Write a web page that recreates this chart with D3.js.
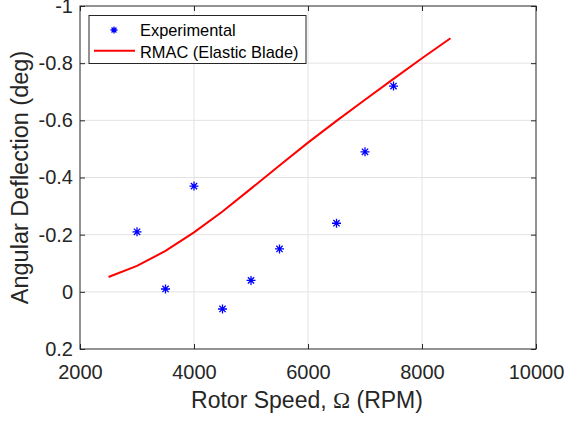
<!DOCTYPE html>
<html>
<head>
<meta charset="utf-8">
<script src="https://cdn.jsdelivr.net/npm/d3@7"></script>
<style>
	body { margin: 0; background: #fff; }
	svg { font-family: "Liberation Sans", Arial, sans-serif; }
</style>
</head>
<body>
<div id="chart"></div>
<script>
// experimental points
const expSpeed = [3000, 3500, 4000, 4500, 5000, 5500, 6500, 7000, 7500];
const expDefl = [-0.21, -0.01, -0.37, 0.06, -0.04, -0.15, -0.24, -0.49, -0.72];

// RMAC (Elastic Blade) curve
const rmacSpeed = [2500, 3000, 3500, 4000, 4500, 5000, 5500, 6000, 6500, 7000, 7500, 8000, 8500];
const rmacDefl = [-0.052, -0.091, -0.143, -0.208, -0.281, -0.361, -0.442, -0.522, -0.598, -0.672, -0.745, -0.817, -0.887];

const xTicks = [2000, 4000, 6000, 8000, 10000];
const yTicks = [-1, -0.8, -0.6, -0.4, -0.2, 0, 0.2];

const W = 565, H = 422;
const m = { left: 80, top: 6, right: 29, bottom: 73 };
const iw = W - m.left - m.right, ih = H - m.top - m.bottom;

const svg = d3.select("#chart").append("svg")
	.attr("width", W)
	.attr("height", H);

const x = d3.scaleLinear().domain([2000, 10000]).range([0, iw]);
const y = d3.scaleLinear().domain([-1, 0.2]).range([0, ih]);

const g = svg.append("g").attr("transform", `translate(${m.left},${m.top})`);

/* grid */
g.append("g").selectAll("line").data(xTicks.slice(1, -1)).join("line")
	.attr("x1", d => x(d)).attr("x2", d => x(d))
	.attr("y1", 0).attr("y2", ih)
	.attr("stroke", "#e3e3e3").attr("stroke-width", 1);
g.append("g").selectAll("line").data(yTicks.slice(1, -1)).join("line")
	.attr("y1", d => y(d)).attr("y2", d => y(d))
	.attr("x1", 0).attr("x2", iw)
	.attr("stroke", "#e3e3e3").attr("stroke-width", 1);

/* axes, ticks inward on all four sides */
const fmtY = d => d === 0 ? "0" : String(+d.toFixed(1));
const axisStyle = sel => {
	sel.select(".domain").remove();
	sel.selectAll(".tick line").attr("stroke", "#262626");
	sel.selectAll(".tick text").attr("fill", "#262626").attr("font-size", 20);
};

g.append("g").attr("transform", `translate(0,${ih})`)
	.call(d3.axisBottom(x).tickValues(xTicks).tickSize(-5).tickPadding(16).tickFormat(d3.format("d")))
	.call(axisStyle);
g.append("g")
	.call(d3.axisTop(x).tickValues(xTicks).tickSize(-5).tickFormat(""))
	.call(axisStyle);
g.append("g")
	.call(d3.axisLeft(y).tickValues(yTicks).tickSize(-5).tickPadding(7).tickFormat(fmtY))
	.call(axisStyle);
g.append("g").attr("transform", `translate(${iw},0)`)
	.call(d3.axisRight(y).tickValues(yTicks).tickSize(-5).tickFormat(""))
	.call(axisStyle);

g.append("rect")
	.attr("width", iw).attr("height", ih)
	.attr("fill", "none").attr("stroke", "#262626").attr("stroke-width", 1);

/* RMAC line */
const line = d3.line().x(d => x(d[0])).y(d => y(d[1]));
g.append("path")
	.datum(d3.zip(rmacSpeed, rmacDefl))
	.attr("d", line)
	.attr("fill", "none")
	.attr("stroke", "#ff0000")
	.attr("stroke-width", 2);

/* asterisk marker */
const star = (sel, s) => {
	sel.append("path")
		.attr("d", `M${-s},0H${s}M0,${-s}V${s}M${-s * 0.7},${-s * 0.7}L${s * 0.7},${s * 0.7}M${-s * 0.7},${s * 0.7}L${s * 0.7},${-s * 0.7}`)
		.attr("stroke", "#0000ff")
		.attr("stroke-width", 1.3)
		.attr("fill", "none");
};

g.append("g").selectAll("g").data(d3.zip(expSpeed, expDefl)).join("g")
	.attr("transform", d => `translate(${x(d[0])},${y(d[1])})`)
	.each(function() { star(d3.select(this), 4.5); });

/* legend */
const lg = svg.append("g").attr("transform", "translate(89,15.5)");
lg.append("rect")
	.attr("width", 217).attr("height", 48)
	.attr("fill", "#fff").attr("stroke", "#262626").attr("stroke-width", 1);
lg.append("g").attr("transform", "translate(25,14.5)").call(s => star(s, 3.5));
lg.append("line")
	.attr("x1", 5).attr("x2", 46).attr("y1", 35.2).attr("y2", 35.2)
	.attr("stroke", "#ff0000").attr("stroke-width", 2);
lg.selectAll("text").data(["Experimental", "RMAC (Elastic Blade)"]).join("text")
	.attr("x", 51).attr("y", (d, i) => 20.5 + i * 22.3)
	.attr("font-size", 16.4).attr("fill", "#000")
	.text(d => d);

/* axis titles */
const xt = svg.append("text")
	.attr("x", 307).attr("y", 408)
	.attr("text-anchor", "middle").attr("font-size", 23).attr("fill", "#262626");
xt.append("tspan").text("Rotor Speed, ");
xt.append("tspan").attr("font-family", "Liberation Serif, serif").text("Ω");
xt.append("tspan").text(" (RPM)");

svg.append("text")
	.attr("transform", `translate(28,${m.top + ih / 2}) rotate(-90)`)
	.attr("text-anchor", "middle").attr("font-size", 23.5).attr("fill", "#262626")
	.text("Angular Deflection (deg)");
</script>
</body>
</html>
